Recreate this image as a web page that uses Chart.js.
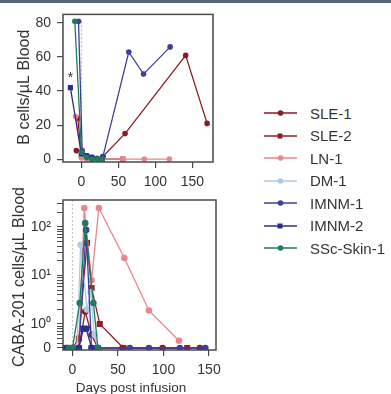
<!DOCTYPE html>
<html>
<head>
<meta charset="utf-8">
<script src="https://cdn.jsdelivr.net/npm/chart.js@4.4.1/dist/chart.umd.min.js"></script>
<style>
  body { margin: 0; background: #fff; width: 391px; height: 394px; overflow: hidden; position: relative; font-family: "Liberation Sans", Arial, sans-serif; }
  #topbar { position: absolute; left: 0; top: 0; width: 391px; height: 3px; background: #56657a; }
  #bcell { position: absolute; left: 0; top: 0; }
  #caba { position: absolute; left: 0; top: 180px; }
  .row { position: absolute; left: 262px; height: 20px; display: flex; align-items: center; }
  .row span { margin-left: 12px; font-size: 15px; color: #333; }
</style>
</head>
<body>
<div id="topbar"></div>
<canvas id="bcell" width="240" height="190"></canvas>
<canvas id="caba" width="240" height="214"></canvas>
<div id="legend"></div>
<script>
// series (legend order)
const seriesNames = ['SLE-1', 'SLE-2', 'LN-1', 'DM-1', 'IMNM-1', 'IMNM-2', 'SSc-Skin-1'];
const seriesColors = ['#8b1a24', '#931d25', '#e8868b', '#aec8e8', '#3d3f98', '#2c2c8c', '#1e7b5e'];
const seriesMarkers = ['circle', 'rect', 'circle', 'circle', 'circle', 'rect', 'circle'];

// B cells/uL blood (top panel)
const bcellDays = [
  [-7, 0, 7, 14, 21, 29, 59, 141, 170],
  [-5, 0, 7, 14, 28, 56],
  [-8, 0, 7, 14, 28, 56, 85, 119],
  [-1, 7, 14, 21, 28],
  [-4, 1, 7, 14, 21, 29, 64, 84, 120],
  [-15, 0, 7, 14, 28],
  [-9, 0, 7, 14, 21, 28]
];
const bcellValues = [
  [5, 1, 0.5, 0, 0, 1.5, 15, 61, 21],
  [24, 2, 1, 0, 0, 0],
  [25, 1, 0, 0, 0, 0, 0, 0],
  [3, 1, 0.5, 0, 0],
  [81, 5, 2, 1, 0.5, 1.5, 63, 50, 66],
  [42, 3, 2, 1, 0],
  [81, 4, 1, 0, 0, 0]
];

// CABA-201 cells/uL blood (bottom panel)
const cabaDays = [
  [-7, 0, 7, 14, 21, 28, 55, 99, 140],
  [-5, 0, 7, 16, 21, 30, 56, 126],
  [0, 7, 13, 21, 29, 57, 84, 117],
  [0, 5, 9, 16, 20, 24, 28],
  [-5, 0, 7, 15, 21, 28, 63, 84, 118, 146],
  [-7, 0, 7, 12, 15, 21, 28],
  [-4, 0, 8, 14, 23, 28]
];
const cabaValues = [
  [0, 0, 0, 1.8, 0.6, 0, 0, 0, 0],
  [0, 0, 0.5, 47, 5.5, 1, 0, 0],
  [0, 0, 246, 8, 246, 23, 1.9, 0.45],
  [0, 0, 43, 2, 4.5, 0.6, 0],
  [0, 0, 0, 87, 0, 0, 0, 0, 0, 0],
  [0, 0.3, 0, 0.8, 0.8, 0, 0],
  [0, 0, 2.7, 120, 2.7, 0]
];

// ticks
const dayTicks = [0, 50, 100, 150];
const bcellTicks = [0, 20, 40, 60, 80];
const zeroLevel = 0.32; // where "0" sits on the log axis
const cabaMajorTicks = [1, 10, 100];
const cabaMajorLabels = ['10\u2070', '10\u00b9', '10\u00b2'];
const cabaMinorTicks = [0.4, 0.5, 0.6, 0.7, 0.8, 0.9, 2, 3, 4, 5, 6, 7, 8, 9, 20, 30, 40, 50, 60, 70, 80, 90, 200, 300];

const FONT = '"Liberation Sans", Arial, sans-serif';
const INK = '#333';
const AXIS = '#4a4a4a';

function makeDatasets(days, values, radius, mapY) {
  return seriesNames.map((name, i) => ({
    label: name,
    data: days[i].map((d, j) => ({ x: d, y: mapY(values[i][j]) })),
    borderColor: seriesColors[i],
    backgroundColor: seriesColors[i],
    borderWidth: 1.3,
    pointStyle: seriesMarkers[i],
    pointRadius: seriesMarkers[i] === 'rect' ? radius * 1.3 : radius,
    pointBorderWidth: 0,
    showLine: true,
    tension: 0,
    order: -i
  }));
}

// box, dotted day-0 line, axis titles, asterisk
const boxPlugin = {
  id: 'box',
  beforeDatasetsDraw(chart, args, opts) {
    const { ctx, chartArea: a, scales } = chart;
    const x0 = scales.x.getPixelForValue(0);
    ctx.save();
    ctx.strokeStyle = opts.refColor;
    ctx.lineWidth = 1.2;
    ctx.setLineDash([2, 2]);
    ctx.beginPath();
    ctx.moveTo(x0, a.top + opts.refInset);
    ctx.lineTo(x0, a.bottom);
    ctx.stroke();
    ctx.restore();
  },
  afterDraw(chart, args, opts) {
    const { ctx, chartArea: a } = chart;
    ctx.save();
    ctx.strokeStyle = AXIS;
    ctx.lineWidth = 1.5;
    ctx.strokeRect(a.left, a.top, a.right - a.left, a.bottom - a.top);
    ctx.fillStyle = INK;
    ctx.textAlign = 'center';
    ctx.textBaseline = 'middle';
    // y title
    ctx.save();
    ctx.font = '16px ' + FONT;
    ctx.translate(opts.yTitleX, (a.top + a.bottom) / 2 + opts.yTitleShift);
    ctx.rotate(-Math.PI / 2);
    ctx.fillText(opts.yTitle, 0, 0);
    ctx.restore();
    if (opts.xTitle) {
      ctx.font = '13.5px ' + FONT;
      ctx.fillText(opts.xTitle, opts.xTitleX, opts.xTitleY);
    }
    if (opts.star) {
      const p = chart.getDatasetMeta(5).data[0];
      ctx.font = '14px ' + FONT;
      ctx.fillText('*', p.x, p.y - 10);
    }
    ctx.restore();
  }
};

function xScale(min, max, height) {
  return {
    type: 'linear', min: min, max: max,
    afterBuildTicks: s => { s.ticks = dayTicks.map(v => ({ value: v })); },
    afterFit: s => { s.height = height; },
    ticks: { font: { family: FONT, size: 14 }, color: INK, padding: 6, maxRotation: 0, autoSkip: false },
    grid: { display: true, drawOnChartArea: false, drawTicks: true, tickLength: 6, color: AXIS, lineWidth: 1.2 },
    border: { display: false }
  };
}

new Chart(document.getElementById('bcell'), {
  type: 'scatter',
  data: { datasets: makeDatasets(bcellDays, bcellValues, 2.8, v => v) },
  options: {
    responsive: false, animation: false,
    layout: { padding: { top: 10, right: 27, left: 0, bottom: 0 } },
    plugins: { legend: { display: false }, tooltip: { enabled: false },
      box: { refColor: '#a9bfdc', refInset: 7, star: true,
        yTitle: 'B cells/\u00b5L Blood', yTitleX: 25, yTitleShift: -1 } },
    scales: {
      x: xScale(-25, 178, 28),
      y: {
        type: 'linear', min: -1.7, max: 85.1,
        afterBuildTicks: s => { s.ticks = bcellTicks.map(v => ({ value: v })); },
        afterFit: s => { s.width = 63; },
        ticks: { font: { family: FONT, size: 14 }, color: INK, padding: 6, autoSkip: false },
        grid: { display: true, drawOnChartArea: false, drawTicks: true, tickLength: 6, color: AXIS, lineWidth: 1.2 },
        border: { display: false }
      }
    }
  },
  plugins: [boxPlugin]
});

new Chart(document.getElementById('caba'), {
  type: 'scatter',
  data: { datasets: makeDatasets(cabaDays, cabaValues, 3.3, v => (v === 0 ? zeroLevel : v)) },
  options: {
    responsive: false, animation: false,
    layout: { padding: { top: 20, right: 24, left: 0, bottom: 0 } },
    plugins: { legend: { display: false }, tooltip: { enabled: false },
      box: { refColor: '#c4c4c4', refInset: 0, star: false,
        yTitle: 'CABA-201 cells/\u00b5L Blood', yTitleX: 20, yTitleShift: 2,
        xTitle: 'Days post infusion', xTitleX: 131, xTitleY: 208 } },
    scales: {
      x: xScale(-10.4, 157.7, 44),
      y: {
        type: 'logarithmic', min: 0.291, max: 360,
        afterBuildTicks: s => {
          s.ticks = [zeroLevel].concat(cabaMajorTicks, cabaMinorTicks).map(v => ({ value: v }));
        },
        afterFit: s => { s.width = 63; },
        ticks: {
          font: { family: FONT, size: 14 }, color: INK, padding: 6, autoSkip: false,
          callback: v => {
            if (v === zeroLevel) return '0';
            const k = cabaMajorTicks.indexOf(v);
            return k >= 0 ? cabaMajorLabels[k] : '';
          }
        },
        grid: { display: true, drawOnChartArea: false, drawTicks: true, tickLength: 6, color: AXIS, lineWidth: 1 },
        border: { display: false }
      }
    }
  },
  plugins: [boxPlugin]
});

// legend
const legend = document.getElementById('legend');
seriesNames.forEach((name, i) => {
  const row = document.createElement('div');
  row.className = 'row';
  row.style.top = (103 + i * 22.5) + 'px';
  const cv = document.createElement('canvas');
  cv.width = 36; cv.height = 20;
  const g = cv.getContext('2d');
  g.strokeStyle = seriesColors[i];
  g.fillStyle = seriesColors[i];
  g.lineWidth = 1.5;
  g.beginPath(); g.moveTo(2, 10); g.lineTo(35, 10); g.stroke();
  if (seriesMarkers[i] === 'rect') g.fillRect(15.5, 7.5, 5, 5);
  else { g.beginPath(); g.arc(18.5, 10, 2.8, 0, Math.PI * 2); g.fill(); }
  const t = document.createElement('span');
  t.textContent = name;
  row.appendChild(cv);
  row.appendChild(t);
  legend.appendChild(row);
});
</script>
</body>
</html>
